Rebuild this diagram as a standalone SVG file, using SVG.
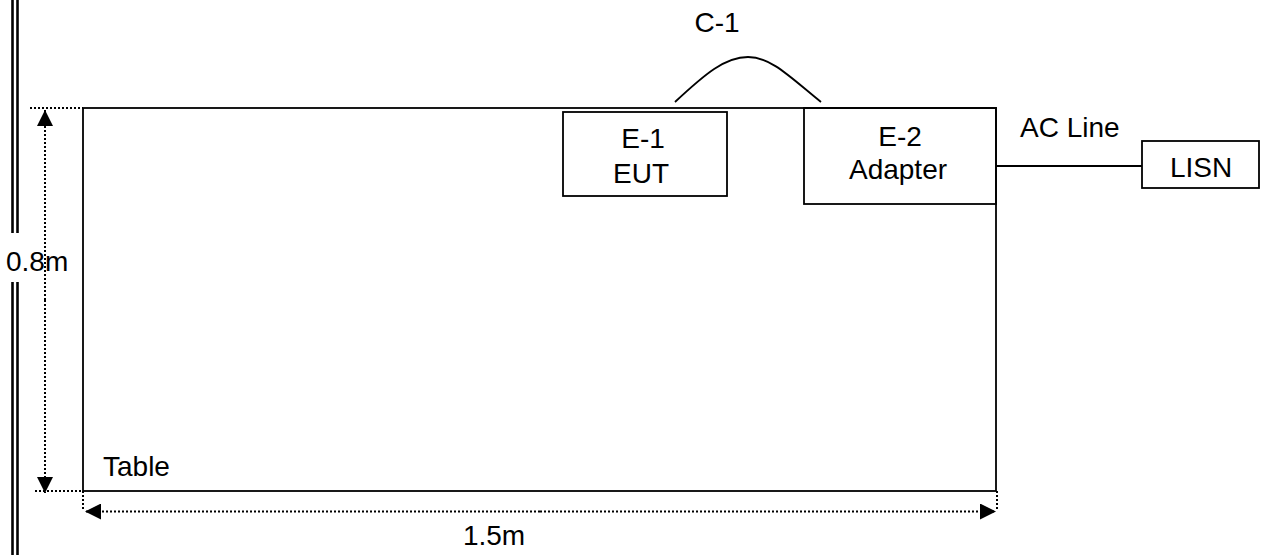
<svg xmlns="http://www.w3.org/2000/svg" width="1261" height="555" viewBox="0 0 1261 555">
<style>
text{font-family:"Liberation Sans",Arial,sans-serif;font-size:28px;fill:#000}
.box{fill:none;stroke:#000;stroke-width:1.8}
.dot{fill:none;stroke:#000;stroke-width:2;stroke-dasharray:2 2}
.ln{fill:none;stroke:#000;stroke-width:1.8}
.wall{stroke:#000;stroke-width:2.6}
</style>
<defs>
<marker id="ah" viewBox="0 0 16 16" refX="16" refY="8" markerWidth="16" markerHeight="16" markerUnits="userSpaceOnUse" orient="auto">
<path d="M0,0 L16,8 L0,16 Z" fill="#000"/>
</marker>
</defs>
<g id="wall">
<line class="wall" x1="12.5" y1="0" x2="12.5" y2="233"/>
<line class="wall" x1="17.5" y1="0" x2="17.5" y2="233"/>
<line class="wall" x1="12.5" y1="282" x2="12.5" y2="555"/>
<line class="wall" x1="17.5" y1="282" x2="17.5" y2="555"/>
</g>
<g id="table">
<rect class="box" x="83" y="108" width="913" height="383"/>
<text x="103" y="476">Table</text>
</g>
<g id="e1">
<rect class="box" x="563" y="112" width="164" height="84"/>
<text x="643" y="148" text-anchor="middle">E-1</text>
<text x="641" y="183" text-anchor="middle">EUT</text>
</g>
<g id="e2">
<rect class="box" x="804" y="108" width="192" height="96"/>
<text x="900" y="146" text-anchor="middle">E-2</text>
<text x="898" y="179" text-anchor="middle">Adapter</text>
</g>
<g id="lisn">
<rect class="box" x="1142" y="141" width="117" height="47"/>
<text x="1201" y="177" text-anchor="middle">LISN</text>
</g>
<g id="connectors">
<path class="ln" d="M675,102 C705,74 725,57 748,57 C771,57 790,77 821,102"/>
<text x="717" y="32" text-anchor="middle">C-1</text>
<line class="ln" x1="996" y1="166" x2="1142" y2="166"/>
<text x="1020" y="137">AC Line</text>
</g>
<g id="dimensions">
<line class="dot" x1="30" y1="108" x2="83" y2="108"/>
<line class="dot" x1="35" y1="491" x2="83" y2="491"/>
<line class="dot" x1="45" y1="300" x2="45" y2="110" marker-end="url(#ah)"/>
<line class="dot" x1="45" y1="300" x2="45" y2="493" marker-end="url(#ah)"/>
<line class="dot" x1="83" y1="491" x2="83" y2="511"/>
<line class="dot" x1="997" y1="491" x2="997" y2="511"/>
<line class="dot" x1="540" y1="511.5" x2="85" y2="511.5" marker-end="url(#ah)"/>
<line class="dot" x1="540" y1="511.5" x2="996" y2="511.5" marker-end="url(#ah)"/>
<text x="6" y="271">0.8m</text>
<text x="494" y="545" text-anchor="middle">1.5m</text>
</g>
</svg>
